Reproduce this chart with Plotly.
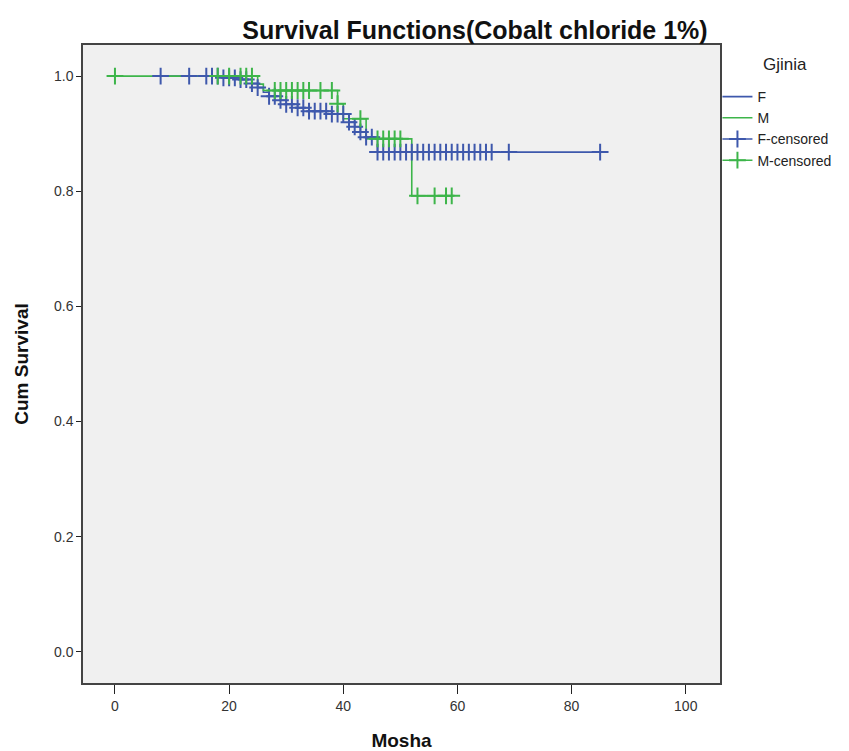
import numpy as np
import plotly.graph_objects as go

# ---- data ----
f_start, f_end = 8, 85
f_event_t = [19, 22, 24, 25, 26, 27, 29, 30, 32, 34, 38, 41, 42, 43, 44, 46]
f_event_s = [0.997, 0.994, 0.987, 0.980, 0.972, 0.965, 0.958, 0.951, 0.945,
             0.939, 0.934, 0.920, 0.912, 0.903, 0.894, 0.868]
f_cens_t = [8, 13, 16, 17, 18, 19, 20, 21, 22, 23, 24, 25, 27, 28, 29, 30, 31,
            32, 33, 34, 35, 36, 37, 38, 39, 40, 41, 42, 43, 44, 45, 46, 47, 48,
            49, 50, 51, 52, 53, 54, 55, 56, 57, 58, 59, 60, 61, 62, 63, 64, 65,
            66, 69, 85]

m_start, m_end = 0, 59
m_event_t = [25, 26, 39, 40, 44, 52]
m_event_s = [0.986, 0.975, 0.952, 0.926, 0.891, 0.792]
m_cens_t = [0, 18, 20, 22, 23, 24, 28, 29, 30, 31, 32, 33, 34, 36, 38, 39, 43,
            46, 47, 48, 49, 50, 53, 56, 58, 59]

x_ticks = [0, 20, 40, 60, 80, 100]
y_ticks = [0.0, 0.2, 0.4, 0.6, 0.8, 1.0]

BLUE = "#3E58AC"
GREEN = "#3DB54A"


def step_xy(start, end, et, es):
    xs = [start] + list(et) + [end]
    ys = [1.0] + list(es) + [es[-1]]
    return xs, ys


def surv_at(t, et, es):
    et = np.asarray(et)
    es = np.concatenate([[1.0], np.asarray(es)])
    idx = np.searchsorted(et, np.asarray(t), side="right")
    return es[idx]


def cross(color):
    return dict(symbol="cross-thin-open", size=12, color=color,
                line=dict(width=2, color=color))


fig = go.Figure()
fx, fy = step_xy(f_start, f_end, f_event_t, f_event_s)
mx, my = step_xy(m_start, m_end, m_event_t, m_event_s)

fig.add_trace(go.Scatter(x=fx, y=fy, mode="lines", name="F",
                         line=dict(color=BLUE, width=1.6, shape="hv")))
fig.add_trace(go.Scatter(x=mx, y=my, mode="lines", name="M",
                         line=dict(color=GREEN, width=1.6, shape="hv")))

fig.add_trace(go.Scatter(x=f_cens_t, y=surv_at(f_cens_t, f_event_t, f_event_s),
                         mode="markers", showlegend=False, marker=cross(BLUE)))
fig.add_trace(go.Scatter(x=m_cens_t, y=surv_at(m_cens_t, m_event_t, m_event_s),
                         mode="markers", showlegend=False, marker=cross(GREEN)))
# legend entries for censored
fig.add_trace(go.Scatter(x=[None], y=[None], mode="lines+markers", name="F-censored",
                         line=dict(color=BLUE, width=1.6), marker=cross(BLUE)))
fig.add_trace(go.Scatter(x=[None], y=[None], mode="lines+markers", name="M-censored",
                         line=dict(color=GREEN, width=1.6), marker=cross(GREEN)))

FONT = "Liberation Sans, Arial, sans-serif"
PH = 751 - 45 - 68
fig.update_layout(
    width=849, height=751,
    margin=dict(l=83, r=129, t=45, b=68, autoexpand=False),
    paper_bgcolor="white", plot_bgcolor="#F0F0F0",
    font=dict(family=FONT, size=13, color="#222"),
    title=dict(text="<b>Survival Functions(Cobalt chloride 1%)</b>",
               x=475 / 849, xanchor="center", y=1 - 30 / 751, yanchor="middle",
               font=dict(size=25, color="#111")),
    legend=dict(x=0.996, xanchor="left", y=1 - (81 - 45) / PH, yanchor="top",
                font=dict(size=14), bgcolor="rgba(0,0,0,0)", tracegroupgap=0,
                itemwidth=30),
    annotations=[dict(text="Gjinia", xref="paper", yref="paper",
                      x=(785 - 83) / (849 - 83 - 129), y=1 - (65 - 45) / PH,
                      xanchor="center", yanchor="middle", showarrow=False,
                      font=dict(size=17, color="#222"))],
    xaxis=dict(range=[-5.6, 106], tickvals=x_ticks, ticks="outside", ticklen=9,
               tickcolor="#222", showgrid=False, zeroline=False, automargin=False,
               showline=True, mirror=True, linecolor="#444", linewidth=1.5,
               title=dict(text="<b>Mosha</b>", font=dict(size=19, color="#111"), standoff=26),
               tickfont=dict(size=14, color="#333")),
    yaxis=dict(range=[-0.054, 1.054], tickvals=y_ticks, tickformat=".1f",
               ticks="outside", ticklen=5, tickcolor="#222", automargin=False,
               showgrid=False, zeroline=False,
               showline=True, mirror=True, linecolor="#444", linewidth=1.5,
               title=dict(text="<b>Cum Survival</b>", font=dict(size=19, color="#111"), standoff=20),
               tickfont=dict(size=14, color="#333")),
)

fig.write_html("out.html")
